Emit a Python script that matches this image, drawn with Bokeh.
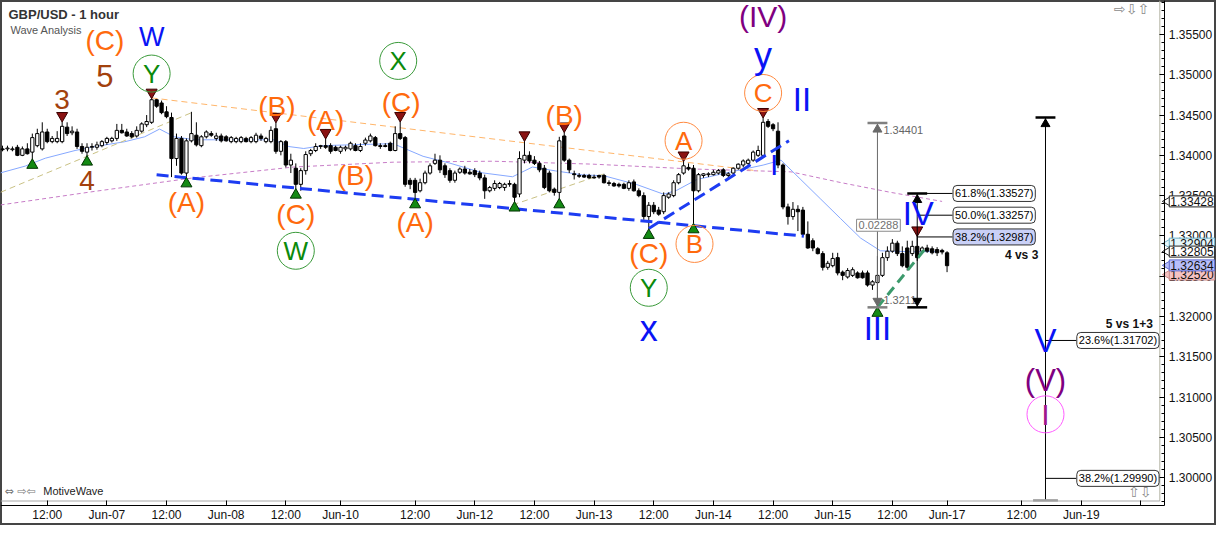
import math
from bokeh.plotting import figure
from bokeh.models import (ColumnDataSource, FixedTicker, SingleIntervalTicker,
                          PrintfTickFormatter, Label, Range1d)
from bokeh.embed import file_html
from bokeh.resources import INLINE
from bokeh.core.properties import value

# ---------------- DATA ----------------
# hourly candles, index = trading hour on the chart's compressed time axis
opens = [
    1.3408, 1.3408, 1.3407, 1.3410, 1.3400, 1.3408, 1.3404, 1.3412, 1.3408, 1.3429,
    1.3417, 1.3417, 1.3417, 1.3435, 1.3428, 1.3429, 1.3411, 1.3404, 1.3410, 1.3410,
    1.3412, 1.3416, 1.3418, 1.3421, 1.3431, 1.3429, 1.3427, 1.3424, 1.3430, 1.3438,
    1.3441, 1.3469, 1.3465, 1.3454, 1.3447, 1.3396, 1.3421, 1.3378, 1.3418, 1.3425,
    1.3412, 1.3423, 1.3427, 1.3421, 1.3424, 1.3423, 1.3417, 1.3417, 1.3417, 1.3421,
    1.3417, 1.3417, 1.3424, 1.3417, 1.3417, 1.3433, 1.3405, 1.3417, 1.3388, 1.3384,
    1.3364, 1.3381, 1.3402, 1.3406, 1.3411, 1.3412, 1.3412, 1.3410, 1.3405, 1.3408,
    1.3408, 1.3412, 1.3406, 1.3415, 1.3418, 1.3422, 1.3412, 1.3412, 1.3415, 1.3406,
    1.3427, 1.3422, 1.3369, 1.3369, 1.3356, 1.3366, 1.3378, 1.3390, 1.3394, 1.3387,
    1.3381, 1.3369, 1.3379, 1.3383, 1.3379, 1.3381, 1.3378, 1.3372, 1.3356, 1.3359,
    1.3360, 1.3360, 1.3364, 1.3364, 1.3352, 1.3394, 1.3400, 1.3394, 1.3390, 1.3384,
    1.3378, 1.3358, 1.3354, 1.3424, 1.3394, 1.3377, 1.3375, 1.3375, 1.3375, 1.3373,
    1.3375, 1.3375, 1.3366, 1.3365, 1.3364, 1.3364, 1.3359, 1.3367, 1.3356, 1.3350,
    1.3324, 1.3338, 1.3332, 1.3330, 1.3348, 1.3350, 1.3366, 1.3378, 1.3385, 1.3384,
    1.3356, 1.3375, 1.3376, 1.3376, 1.3378, 1.3382, 1.3375, 1.3378, 1.3384, 1.3388,
    1.3390, 1.3394, 1.3400, 1.3400, 1.3442, 1.3438, 1.3430, 1.3388, 1.3336, 1.3324,
    1.3333, 1.3332, 1.3302, 1.3294, 1.3284, 1.3278, 1.3261, 1.3263, 1.3273, 1.3255,
    1.3249, 1.3251, 1.3254, 1.3254, 1.3254, 1.3239, 1.3242, 1.3251, 1.3273, 1.3281,
    1.3291, 1.3278, 1.3285, 1.3278, 1.3287, 1.3281, 1.3285, 1.3284, 1.3283, 1.3282, 1.3279,
]
highs = [
    1.3412, 1.3412, 1.3411, 1.3413, 1.3411, 1.3415, 1.3427, 1.3433, 1.3441, 1.3433,
    1.3424, 1.3430, 1.3442, 1.3441, 1.3436, 1.3433, 1.3415, 1.3415, 1.3415, 1.3417,
    1.3419, 1.3423, 1.3423, 1.3439, 1.3439, 1.3433, 1.3430, 1.3436, 1.3441, 1.3450,
    1.3471, 1.3470, 1.3468, 1.3461, 1.3453, 1.3427, 1.3424, 1.3421, 1.3454, 1.3441,
    1.3425, 1.3431, 1.3430, 1.3428, 1.3427, 1.3425, 1.3424, 1.3423, 1.3424, 1.3423,
    1.3424, 1.3428, 1.3427, 1.3423, 1.3436, 1.3441, 1.3419, 1.3419, 1.3402, 1.3390,
    1.3384, 1.3405, 1.3408, 1.3415, 1.3413, 1.3421, 1.3415, 1.3412, 1.3412, 1.3412,
    1.3417, 1.3415, 1.3415, 1.3422, 1.3427, 1.3424, 1.3415, 1.3415, 1.3417, 1.3436,
    1.3442, 1.3424, 1.3372, 1.3372, 1.3371, 1.3381, 1.3390, 1.3402, 1.3400, 1.3390,
    1.3384, 1.3381, 1.3385, 1.3387, 1.3383, 1.3384, 1.3381, 1.3376, 1.3362, 1.3369,
    1.3367, 1.3366, 1.3369, 1.3366, 1.3405, 1.3418, 1.3405, 1.3399, 1.3393, 1.3388,
    1.3381, 1.3360, 1.3423, 1.3429, 1.3396, 1.3381, 1.3378, 1.3377, 1.3377, 1.3376,
    1.3376, 1.3377, 1.3369, 1.3367, 1.3366, 1.3366, 1.3369, 1.3370, 1.3359, 1.3354,
    1.3342, 1.3342, 1.3336, 1.3354, 1.3354, 1.3369, 1.3378, 1.3393, 1.3390, 1.3388,
    1.3378, 1.3378, 1.3379, 1.3382, 1.3383, 1.3384, 1.3379, 1.3385, 1.3390, 1.3395,
    1.3396, 1.3406, 1.3412, 1.3447, 1.3445, 1.3440, 1.3441, 1.3390, 1.3340, 1.3342,
    1.3338, 1.3336, 1.3318, 1.3297, 1.3286, 1.3281, 1.3269, 1.3279, 1.3279, 1.3257,
    1.3260, 1.3261, 1.3256, 1.3257, 1.3257, 1.3245, 1.3275, 1.3279, 1.3287, 1.3296,
    1.3294, 1.3287, 1.3294, 1.3294, 1.3300, 1.3287, 1.3289, 1.3287, 1.3286, 1.3284, 1.3281,
]
lows = [
    1.3405, 1.3405, 1.3405, 1.3399, 1.3399, 1.3401, 1.3395, 1.3410, 1.3406, 1.3415,
    1.3415, 1.3415, 1.3415, 1.3424, 1.3425, 1.3408, 1.3402, 1.3399, 1.3406, 1.3407,
    1.3410, 1.3413, 1.3416, 1.3418, 1.3427, 1.3423, 1.3421, 1.3422, 1.3428, 1.3435,
    1.3439, 1.3459, 1.3451, 1.3446, 1.3373, 1.3387, 1.3376, 1.3372, 1.3416, 1.3411,
    1.3410, 1.3421, 1.3423, 1.3418, 1.3416, 1.3417, 1.3415, 1.3415, 1.3415, 1.3416,
    1.3415, 1.3415, 1.3418, 1.3415, 1.3415, 1.3402, 1.3400, 1.3385, 1.3378, 1.3358,
    1.3356, 1.3376, 1.3399, 1.3404, 1.3408, 1.3408, 1.3402, 1.3405, 1.3402, 1.3405,
    1.3406, 1.3405, 1.3404, 1.3412, 1.3416, 1.3411, 1.3408, 1.3410, 1.3405, 1.3405,
    1.3419, 1.3361, 1.3358, 1.3346, 1.3354, 1.3364, 1.3376, 1.3388, 1.3378, 1.3372,
    1.3366, 1.3366, 1.3377, 1.3376, 1.3376, 1.3373, 1.3369, 1.3346, 1.3354, 1.3356,
    1.3358, 1.3356, 1.3361, 1.3342, 1.3348, 1.3390, 1.3390, 1.3388, 1.3379, 1.3358,
    1.3354, 1.3350, 1.3346, 1.3392, 1.3378, 1.3370, 1.3372, 1.3372, 1.3371, 1.3371,
    1.3371, 1.3365, 1.3362, 1.3361, 1.3360, 1.3358, 1.3356, 1.3355, 1.3348, 1.3320,
    1.3308, 1.3327, 1.3325, 1.3327, 1.3346, 1.3348, 1.3364, 1.3376, 1.3381, 1.3315,
    1.3354, 1.3372, 1.3373, 1.3375, 1.3376, 1.3373, 1.3372, 1.3376, 1.3382, 1.3385,
    1.3388, 1.3392, 1.3398, 1.3398, 1.3434, 1.3430, 1.3384, 1.3333, 1.3314, 1.3320,
    1.3306, 1.3300, 1.3284, 1.3281, 1.3277, 1.3257, 1.3258, 1.3261, 1.3251, 1.3245,
    1.3247, 1.3249, 1.3247, 1.3247, 1.3237, 1.3233, 1.32113, 1.3249, 1.3269, 1.3279,
    1.3275, 1.3261, 1.3257, 1.3275, 1.3269, 1.3279, 1.3279, 1.3277, 1.3275, 1.3277, 1.3255,
]
closes = [
    1.3407, 1.3409, 1.3408, 1.3400, 1.3408, 1.3402, 1.3422, 1.3427, 1.3429, 1.3417,
    1.3421, 1.3421, 1.3436, 1.3427, 1.3430, 1.3411, 1.3405, 1.3410, 1.3411, 1.3413,
    1.3417, 1.3421, 1.3421, 1.3431, 1.3428, 1.3424, 1.3423, 1.3431, 1.3439, 1.3442,
    1.3469, 1.3461, 1.3453, 1.3448, 1.3396, 1.3421, 1.3378, 1.3418, 1.3427, 1.3413,
    1.3423, 1.3429, 1.3425, 1.3424, 1.3418, 1.3418, 1.3422, 1.3421, 1.3422, 1.3417,
    1.3422, 1.3425, 1.3421, 1.3421, 1.3431, 1.3405, 1.3417, 1.3388, 1.3394, 1.3364,
    1.3381, 1.3401, 1.3406, 1.3411, 1.3412, 1.3410, 1.3405, 1.3406, 1.3410, 1.3410,
    1.3415, 1.3406, 1.3411, 1.3419, 1.3424, 1.3412, 1.3411, 1.3411, 1.3406, 1.3427,
    1.3421, 1.3364, 1.3364, 1.3354, 1.3366, 1.3378, 1.3387, 1.3394, 1.3382, 1.3376,
    1.3369, 1.3378, 1.3383, 1.3378, 1.3377, 1.3376, 1.3372, 1.3356, 1.3360, 1.3365,
    1.3365, 1.3364, 1.3365, 1.3348, 1.3396, 1.3400, 1.3393, 1.3390, 1.3382, 1.3360,
    1.3356, 1.3354, 1.3418, 1.3394, 1.3382, 1.3376, 1.3374, 1.3373, 1.3372, 1.3372,
    1.3373, 1.3366, 1.3365, 1.3362, 1.3362, 1.3359, 1.3366, 1.3356, 1.3350, 1.3324,
    1.3338, 1.3330, 1.3327, 1.3350, 1.3352, 1.3366, 1.3376, 1.3387, 1.3383, 1.3356,
    1.3376, 1.3377, 1.3377, 1.3379, 1.3381, 1.3375, 1.3377, 1.3384, 1.3389, 1.3393,
    1.3394, 1.3404, 1.3406, 1.3441, 1.3436, 1.3433, 1.3388, 1.3336, 1.3324, 1.3333,
    1.3330, 1.3302, 1.3285, 1.3285, 1.3278, 1.3261, 1.3266, 1.3272, 1.3254, 1.3251,
    1.3257, 1.3258, 1.3248, 1.3248, 1.3239, 1.3243, 1.3251, 1.3273, 1.3281, 1.3291,
    1.3278, 1.3263, 1.3261, 1.3287, 1.3273, 1.3285, 1.3281, 1.3279, 1.3279, 1.3280, 1.3263,
]

tick_bars = [9, 21, 33, 45, 57, 68, 83, 95, 107, 119, 131, 143, 155, 167, 179, 190, 205, 217, 229]
tick_labels = ["12:00", "Jun-07", "12:00", "Jun-08", "12:00", "Jun-10", "12:00", "Jun-12",
               "12:00", "Jun-13", "12:00", "Jun-14", "12:00", "Jun-15", "12:00", "Jun-17",
               "12:00", "Jun-19", ""]

peak_bars = [12, 30, 55, 65, 80, 105, 113, 137, 153, 184]
trough_bars = [6, 17, 37, 59, 83, 103, 112, 130, 139, 176]

ma_fast_bars = [-0.4, 4.6, 8.6, 14.6, 18.6, 24.6, 28.6, 31.6, 34.6, 38.6, 54.6, 57.6, 60.6,
                64.6, 78.6, 84.6, 90, 96.6, 102.6, 106.6, 111.2, 116.6, 121, 127.6, 133,
                135.6, 139.6, 145.6, 153, 156.6, 160.6, 164.6, 168.6, 172.6, 176.6, 182.6, 187.6]
ma_fast_vals = [1.33782, 1.33867, 1.33964, 1.34060, 1.34109, 1.34169, 1.34230, 1.34326,
                1.34230, 1.34193, 1.34193, 1.34109, 1.34085, 1.34121, 1.34145, 1.33988,
                1.33903, 1.33782, 1.33734, 1.33855, 1.33807, 1.33758, 1.33746, 1.33637,
                1.33517, 1.33565, 1.33698, 1.33782, 1.33879, 1.33940, 1.33698, 1.33456,
                1.33214, 1.32973, 1.32815, 1.32803, 1.32805]
ma_slow_bars = [-0.4, 18.6, 38.6, 58.6, 78.6, 98.6, 118.6, 138.6, 158.6, 168.6, 178.6, 189]
ma_slow_vals = [1.33384, 1.33553, 1.33722, 1.33855, 1.33915, 1.33927, 1.33891, 1.33831,
                1.33795, 1.33662, 1.33541, 1.33428]

chan_bars = [31.0, 161.2]
chan_vals = [1.33758, 1.32997]
wave2_bars = [130.0, 158.2]
wave2_vals = [1.33093, 1.34181]
wave4_bars = [176.0, 185.6]
wave4_vals = [1.32113, 1.32840]
upper_bars = [30.0, 152.0]
upper_vals = [1.34713, 1.33807]
khaki1_bars = [-0.4, 38.6]
khaki1_vals = [1.33541, 1.34544]
khaki2_bars = [102.6, 121.6]
khaki2_vals = [1.33384, 1.33782]

measure_bar = 176
measure_top = 1.34401
measure_bottom = 1.32113

iv_tool_bar = 184
iv_fib_pcts = [61.8, 50.0, 38.2]
iv_fib_levels = [1.33527, 1.33257, 1.32987]

v_tool_bar = 209.8
v_tool_top = 1.34469
v_fib_pcts = [23.6, 38.2]
v_fib_levels = [1.31702, 1.29990]

tag_values = [1.33428, 1.32904, 1.32805, 1.32520, 1.32634]

# ---------------- FIGURE ----------------
YTOP = 1.35922          # top of chart pane
PANE_BOTTOM = 1.29709   # bottom edge of the price pane
AXIS_Y = 1.29649        # where the time axis sits
AXIS_X = 233.8          # where the price axis sits
PANE_RIGHT = 232.8

p = figure(width=1216, height=525, output_backend="svg", toolbar_location=None,
           x_range=Range1d(-0.4, 244.2), y_range=Range1d(1.29405, YTOP),
           y_axis_location="right", min_border_left=0, min_border_top=0,
           min_border_right=0, min_border_bottom=0,
           background_fill_color="white", border_fill_color="white",
           outline_line_color="#454545", outline_line_width=3)
p.grid.visible = False

xa = p.xaxis[0]
xa.fixed_location = AXIS_Y
xa.bounds = (-0.4, AXIS_X)
xa.ticker = FixedTicker(ticks=tick_bars, minor_ticks=[])
xa.major_label_overrides = {b: t for b, t in zip(tick_bars, tick_labels)}
xa.major_tick_in = 5
xa.major_tick_out = 0
xa.minor_tick_in = 0
xa.minor_tick_out = 0
xa.axis_line_color = "black"
xa.major_label_standoff = 2
xa.major_label_text_font = "Liberation Sans"
xa.major_label_text_font_size = "12px"
xa.major_label_text_color = "#111111"

ya = p.yaxis[0]
ya.fixed_location = AXIS_X
ya.bounds = (AXIS_Y, YTOP)
ya.ticker = SingleIntervalTicker(interval=0.005, num_minor_ticks=5)
ya.formatter = PrintfTickFormatter(format="%.5f")
ya.major_tick_in = 5
ya.major_tick_out = 0
ya.minor_tick_in = 3
ya.minor_tick_out = 0
ya.axis_line_color = "black"
ya.major_label_standoff = 4
ya.major_label_text_font = "Liberation Sans"
ya.major_label_text_font_size = "12px"
ya.major_label_text_color = "#111111"

# pane border lines
p.segment(PANE_RIGHT, PANE_BOTTOM, PANE_RIGHT, YTOP, color="#b4b4a4", line_width=1)
p.segment(-0.4, PANE_BOTTOM, PANE_RIGHT, PANE_BOTTOM, color="#a8a8a8", line_width=1)

# moving averages and thin guide lines
p.line(ma_slow_bars, ma_slow_vals, color="#c77cc7", line_width=1, line_dash="4 3")
p.line(ma_fast_bars, ma_fast_vals, color="#86a8ff", line_width=1)
p.line(khaki1_bars, khaki1_vals, color="#c9c184", line_width=1, line_dash="6 4")
p.line(khaki2_bars, khaki2_vals, color="#c9c184", line_width=1, line_dash="6 4")
p.line(upper_bars, upper_vals, color="#ffb56a", line_width=1, line_dash="6 4")

# candles
n = len(closes)
assert len(opens) == n and len(highs) == n and len(lows) == n
bars = list(range(n))
src = ColumnDataSource(dict(
    x=bars, h=highs, l=lows,
    top=[max(o, c) for o, c in zip(opens, closes)],
    bot=[min(o, c) for o, c in zip(opens, closes)],
    fill=["white" if c >= o else "black" for o, c in zip(opens, closes)],
))
p.segment(x0="x", y0="l", x1="x", y1="h", source=src, color="black", line_width=1)
p.vbar(x="x", width=0.66, top="top", bottom="bot", source=src,
       fill_color="fill", line_color="black", line_width=1)

# wave trend lines
p.line(chan_bars, chan_vals, color="#1d3cf2", line_width=3, line_dash="12 6")
p.line(wave2_bars, wave2_vals, color="#1d3cf2", line_width=3, line_dash="12 6")
p.line(wave4_bars, wave4_vals, color="#3c9a6c", line_width=3, line_dash="10 6")

# pivot markers
p.scatter(peak_bars, [highs[b] + 0.00072 for b in peak_bars],
          marker="inverted_triangle", size=11, fill_color="#8a1212", line_color="#3a0000")
p.scatter(trough_bars, [lows[b] - 0.00072 for b in trough_bars],
          marker="triangle", size=11, fill_color="#138a13", line_color="#003300")

# ---- measuring tool (gray) ----
g = "#6a6a6a"
p.segment(measure_bar, measure_bottom, measure_bar, measure_top, color=g, line_width=1)
p.segment([measure_bar - 2] * 2, [measure_top, measure_bottom], [measure_bar + 2] * 2,
          [measure_top, measure_bottom], color="#808080", line_width=2.5)
p.scatter([measure_bar], [measure_top - 0.0008], marker="triangle", size=9, color=g)
p.scatter([measure_bar], [measure_bottom + 0.0008], marker="inverted_triangle", size=9, color=g)
p.text([measure_bar + 1.2], [measure_top - 0.0009], text=[f"{measure_top:.5f}"],
       text_font=value("Liberation Sans"), text_font_size="11px", text_color="#666666",
       text_baseline="middle")
p.text([measure_bar + 1.2], [measure_bottom + 0.0009], text=[f"{measure_bottom:.4f}"],
       text_font=value("Liberation Sans"), text_font_size="11px", text_color="#666666",
       text_baseline="middle")
p.add_layout(Label(x=measure_bar + 0.2, y=(measure_top + measure_bottom) / 2 - 0.00125,
                   text=f"{measure_top - measure_bottom:.5f}", text_align="center",
                   text_baseline="middle", text_font="Liberation Sans", text_font_size="11px",
                   text_color="#707070", background_fill_color="white",
                   border_line_color="#8a8a8a", padding=2))

# ---- wave IV retracement tool ----
p.segment(iv_tool_bar, measure_bottom, iv_tool_bar, iv_fib_levels[0], color="black", line_width=1)
p.segment([iv_tool_bar - 2] * 2, [iv_fib_levels[0], measure_bottom], [iv_tool_bar + 2] * 2,
          [iv_fib_levels[0], measure_bottom], color="black", line_width=2.5)
p.scatter([iv_tool_bar], [iv_fib_levels[0] - 0.0008], marker="triangle", size=9, color="black")
p.scatter([iv_tool_bar], [measure_bottom + 0.0008], marker="inverted_triangle", size=9, color="black")
for pct, lvl in zip(iv_fib_pcts, iv_fib_levels):
    p.segment(iv_tool_bar, lvl, iv_tool_bar + 7.1, lvl, color="black", line_width=1)
    p.add_layout(Label(x=iv_tool_bar + 7.2, y=lvl, text=f"{pct:.1f}%({lvl:.5f})",
                       text_align="left", text_baseline="middle", text_font="Liberation Sans",
                       text_font_size="11px", text_color="black",
                       background_fill_color="#c9d0f7" if pct == 38.2 else "white",
                       border_line_color="#333333", padding=2, border_radius=4))

# ---- wave V projection tool ----
p.segment(v_tool_bar, PANE_BOTTOM, v_tool_bar, v_tool_top, color="black", line_width=1)
p.segment(v_tool_bar - 2, v_tool_top, v_tool_bar + 2, v_tool_top, color="black", line_width=2.5)
p.segment(v_tool_bar - 2.5, PANE_BOTTOM + 0.00008, v_tool_bar + 2.5, PANE_BOTTOM + 0.00008,
          color="#a0a0a0", line_width=2.5)
p.scatter([v_tool_bar], [v_tool_top - 0.0008], marker="triangle", size=9, color="black")
for pct, lvl in zip(v_fib_pcts, v_fib_levels):
    p.segment(v_tool_bar, lvl, v_tool_bar + 6.2, lvl, color="black", line_width=1)
    p.add_layout(Label(x=v_tool_bar + 6.3, y=lvl, text=f"{pct:.1f}%({lvl:.5f})",
                       text_align="left", text_baseline="middle", text_font="Liberation Sans",
                       text_font_size="11px", text_color="black",
                       background_fill_color="white",
                       border_line_color="#333333", padding=2, border_radius=4))

p.text([205], [1.32767], text=["4 vs 3"], text_font=value("Liberation Sans"),
       text_font_size="12px", text_font_style="bold", text_align="center",
       text_baseline="middle", text_color="#111111")
p.text([231.4], [1.31909], text=["5 vs 1+3"], text_font=value("Liberation Sans"),
       text_font_size="12px", text_font_style="bold", text_align="right",
       text_baseline="middle", text_color="#111111")

# ---- wave labels ----
OR, BL, GR, BR, PU = "#ff6a0d", "#0a14f5", "#0b8a0b", "#a2410d", "#800080"
wave_labels = [
    ("(C)", 20.6, 1.35426, OR, 28), ("W", 30, 1.35463, BL, 27),
    ("5", 20.6, 1.34991, BR, 31), ("3", 12, 1.34689, BR, 28), ("4", 17, 1.33686, BR, 28),
    ("Y", 30, 1.35015, GR, 26), ("(A)", 37, 1.33420, OR, 28), ("(B)", 55.2, 1.34604, OR, 28),
    ("(A)", 65, 1.34435, OR, 28), ("(B)", 71, 1.33746, OR, 28), ("(C)", 59, 1.33263, OR, 28),
    ("W", 59, 1.32815, GR, 26), ("X", 79.6, 1.35172, GR, 26), ("(C)", 80.2, 1.34653, OR, 28),
    ("(A)", 83, 1.33166, OR, 28), ("(B)", 113, 1.34496, OR, 28), ("A", 137, 1.34181, OR, 26),
    ("C", 153, 1.34774, OR, 26), ("y", 153, 1.35245, BL, 36), ("(IV)", 153, 1.35729, PU, 30),
    ("II", 160.8, 1.34689, BL, 33), ("I", 155.2, 1.33891, BL, 30), ("(C)", 130, 1.32779, OR, 28),
    ("B", 139.2, 1.32900, OR, 26), ("Y", 130, 1.32356, GR, 26), ("x", 130, 1.31848, BL, 36),
    ("III", 176, 1.31848, BL, 33), ("IV", 184.2, 1.33275, BL, 33), ("V", 209.8, 1.31703, BL, 33),
    ("(V)", 209.8, 1.31208, PU, 31), ("I", 209.8, 1.30785, "#a0168c", 30),
]
circles = [(30, 1.35015, "#3a9a3a"), (59, 1.32815, "#3a9a3a"), (79.6, 1.35172, "#3a9a3a"),
           (130, 1.32356, "#3a9a3a"), (137, 1.34181, "#ff8a40"), (153, 1.34774, "#ff8a40"),
           (139.2, 1.32900, "#ff8a40"), (209.8, 1.30785, "#ff5cff")]
p.scatter([c[0] for c in circles], [c[1] for c in circles], marker="circle", size=37,
          fill_color=None, line_color=[c[2] for c in circles], line_width=1)
wsrc = ColumnDataSource(dict(
    x=[w[1] for w in wave_labels], y=[w[2] for w in wave_labels],
    t=[w[0] for w in wave_labels], c=[w[3] for w in wave_labels],
    s=[f"{w[4]}px" for w in wave_labels]))
p.text(x="x", y="y", text="t", text_color="c", text_font_size="s", source=wsrc,
       text_font=value("Liberation Sans"), text_align="center", text_baseline="middle")

# ---- header / footer texts ----
p.text([1.2], [1.35753], text=["GBP/USD - 1 hour"], text_font=value("Liberation Sans"),
       text_font_size="13px", text_font_style="bold", text_color="#333333",
       text_baseline="middle")
p.text([1.6], [1.35559], text=["Wave Analysis"], text_font=value("Liberation Sans"),
       text_font_size="11px", text_color="#555555", text_baseline="middle")
p.text([0.4], [1.29830], text=["\u21d4 \u21e8\u21e6"], text_font=value("DejaVu Sans"),
       text_font_size="11px", text_color="#777777", text_baseline="middle")
p.text([8.2], [1.29830], text=["MotiveWave"], text_font=value("Liberation Sans"),
       text_font_size="11px", text_color="#222222", text_baseline="middle")
p.text([223.6], [1.35813], text=["\u21e8\u21e9\u21e7"], text_font=value("DejaVu Sans"),
       text_font_size="14px", text_color="#8a8a8a", text_baseline="middle")
p.text([226.4], [1.29818], text=["\u21e7\u21e9"], text_font=value("DejaVu Sans"),
       text_font_size="14px", text_color="#8a8a8a", text_baseline="middle")

# ---- price tags on the axis ----
tag_style = {1.33428: ("white", "#222222"), 1.32904: ("#e4f6fa", "#6fb0c8"),
             1.32805: ("white", "#222222"), 1.32520: ("#f5c2c2", "#c98a8a"),
             1.32634: ("#b7befa", "#5e6ad0")}
for v in tag_values:
    fill, edge = tag_style[v]
    p.scatter([AXIS_X + 0.55], [v], marker="triangle", angle=math.pi / 2, size=9,
              fill_color=fill, line_color=edge)
    p.add_layout(Label(x=AXIS_X + 0.9, y=v, text=f"{v:.5f}", text_align="left",
                       text_baseline="middle", text_font="Liberation Sans",
                       text_font_size="12px", text_color="#111111",
                       background_fill_color=fill, border_line_color=edge, padding=1))

open("out.html", "w").write(file_html(p, INLINE))
